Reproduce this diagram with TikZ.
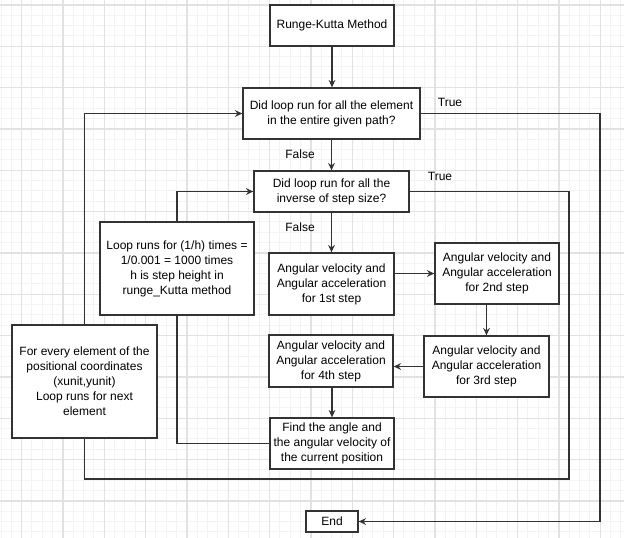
\documentclass[tikz,border=0pt]{standalone}
\usepackage{fontspec}
\setmainfont{Liberation Sans}
\usepackage{tikz}
\usetikzlibrary{arrows.meta,positioning,calc}
\definecolor{GridMinor}{HTML}{F3F3F3}
\definecolor{GridMajor}{HTML}{E2E2E2}
\definecolor{EdgeGray}{HTML}{333333}

\begin{document}
\begin{tikzpicture}[
    x=0.75pt, y=-0.75pt,
    font=\fontsize{9}{11.25}\selectfont,
    box/.style={draw=EdgeGray, line width=1pt, fill=white, align=center, inner sep=0.5pt},
    arr/.style={-{Stealth[length=5.5pt,width=5pt]}, line width=1pt, draw=EdgeGray},
    link/.style={line width=1pt, draw=EdgeGray},
    lbl/.style={inner sep=0pt}
]
\useasboundingbox (0,0) rectangle (624,538);
% background grid
\foreach \x in {1.0,11.333,...,624}{\draw[GridMinor, line width=0.75pt] (\x,0) -- (\x,538);}
\foreach \y in {5,15.333,...,538}{\draw[GridMinor, line width=0.75pt] (0,\y) -- (624,\y);}
\foreach \x in {21.667,63,...,624}{\draw[GridMajor, line width=0.9pt] (\x,0) -- (\x,538);}
\foreach \y in {5,46.333,...,538}{\draw[GridMajor, line width=0.9pt] (0,\y) -- (624,\y);}

\node[box, minimum width=93pt, minimum height=30.75pt] (start) at (332,25.5) {Runge-Kutta Method};
\node[box, minimum width=132.75pt, minimum height=38.25pt] (d1) at (331.5,113.5) {Did loop run for all the element\\in the entire given path?};
\node[box, minimum width=116.25pt, minimum height=30.75pt] (d2) at (331.5,191.5) {Did loop run for all the\\inverse of step size?};
\node[box, minimum width=93.75pt, minimum height=46.5pt] (a1) at (331.5,284) {Angular velocity and\\Angular acceleration\\for 1st step};
\node[box, minimum width=93pt, minimum height=45.75pt] (a2) at (497,273.5) {Angular velocity and\\Angular acceleration\\for 2nd step};
\node[box, minimum width=93.75pt, minimum height=45.75pt] (a3) at (486.5,366.5) {Angular velocity and\\Angular acceleration\\for 3rd step};
\node[box, minimum width=93pt, minimum height=39pt] (a4) at (331,361) {Angular velocity and\\Angular acceleration\\for 4th step};
\node[box, minimum width=93pt, minimum height=38.25pt] (f) at (332,443.5) {Find the angle and\\the angular velocity of\\the current position};
\node[box, minimum width=115.5pt, minimum height=69.75pt] (lp) at (177,268.5) {Loop runs for (1/h) times =\\1/0.001 = 1000 times\\h is step height in\\runge\_Kutta method};
\node[box, minimum width=108.75pt, minimum height=84.75pt] (el) at (84.5,381.5) {For every element of the\\positional coordinates\\(xunit,yunit)\\Loop runs for next\\element};
\node[box, minimum width=39pt, minimum height=15.75pt] (en) at (332,521.5) {End};

\node[lbl] (true1) at (450,102) {True};
\node[lbl] (true2) at (440,176) {True};
\node[lbl] (false1) at (300,154) {False};
\node[lbl] (false2) at (300,227) {False};

\coordinate (outer) at (600,0);
\coordinate (inner) at (569,0);
\coordinate (base) at (0,479);

\draw[arr] (start.south) -- (start.south |- d1.north);
\draw[arr] (d1) -- (d2);
\draw[arr] (d2) -- (a1);
\draw[arr] (a1.east |- a2.west) -- (a2.west);
\draw[arr] (a2.south -| a3.north) -- (a3.north);
\draw[arr] (a3.west) -- (a3.west -| a4.east);
\draw[arr] (a4.south -| f.north) -- (f.north);
\draw[arr] (d1.east) -- (d1.east -| outer) |- (en.east);
\draw[link] (d2.east) -- (d2.east -| inner) |- (base -| el.south) -- (el.south);
\draw[arr] (el.north) |- (d1.west);
\draw[link] (f.west) -| (lp.south);
\draw[arr] (lp.north) |- (d2.west);
\end{tikzpicture}
\end{document}
